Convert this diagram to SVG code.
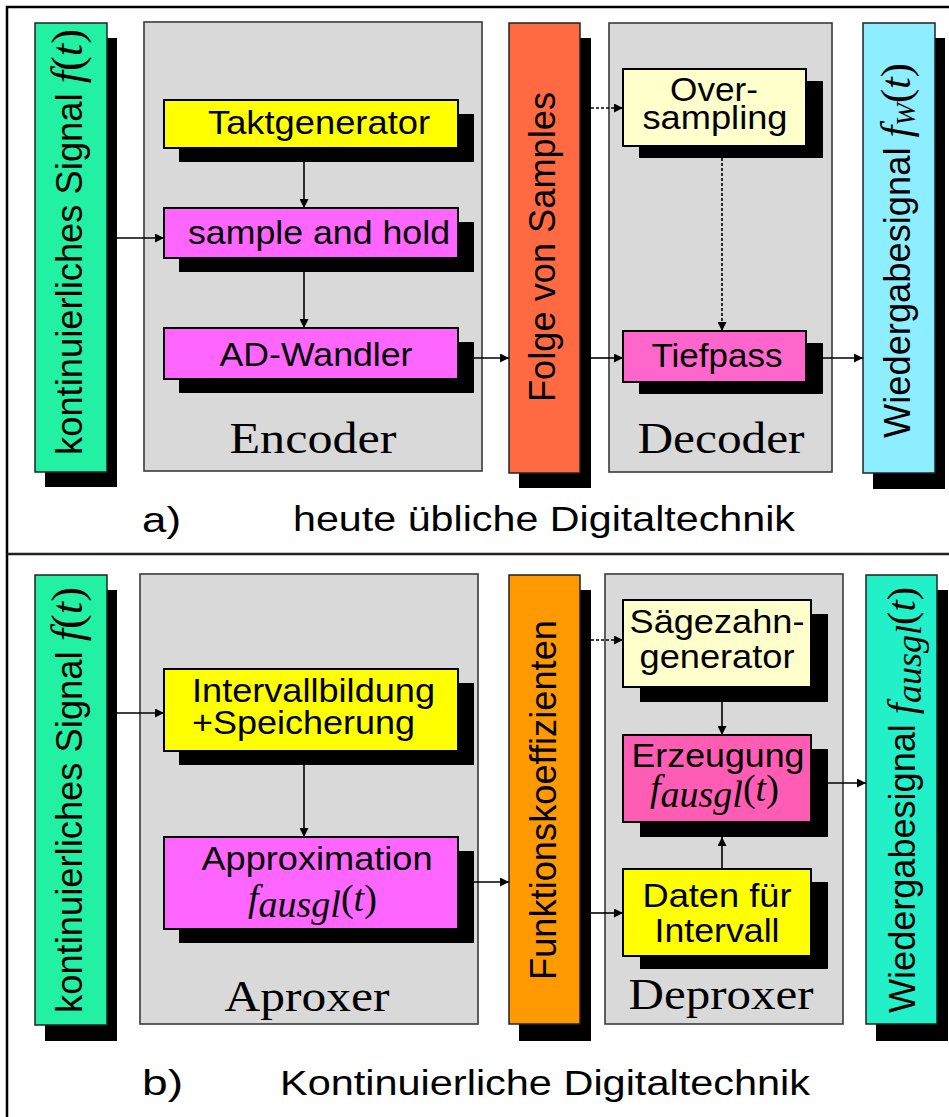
<svg xmlns="http://www.w3.org/2000/svg" width="949" height="1117" viewBox="0 0 949 1117">
  <style>
    .bg { fill: #ffffff; }
    .frame { fill: none; stroke: #000; stroke-width: 2.5; }
    .sep { stroke: #222; stroke-width: 2.5; }
    .shadow { fill: #000; }
    .panel { fill: #d9d9d9; stroke: #3a3a3a; stroke-width: 1.6; }
    .bar { stroke: #222; stroke-width: 1.5; }
    .box { stroke: #000; stroke-width: 2; }
    .green { fill: #22f0a2; }
    .cyan { fill: #8ceeff; }
    .turq { fill: #22f0c8; }
    .red { fill: #ff6a42; }
    .orange { fill: #ff9900; }
    .yellow { fill: #ffff00; }
    .magenta { fill: #ff66ff; }
    .pink { fill: #ff66cc; }
    .rose { fill: #ff5cb4; }
    .cream { fill: #ffffcc; }
    .sans { font-family: "Liberation Sans", Arial, sans-serif; fill: #000; }
    .serif { font-family: "Liberation Serif", "Times New Roman", serif; fill: #000; }
    .it { font-family: "Liberation Serif", "Times New Roman", serif; font-style: italic; }
    .up { font-family: "Liberation Serif", "Times New Roman", serif; font-style: normal; }
    .lbl { font-size: 34px; text-anchor: middle; }
    .vert { font-size: 36px; }
    .panelname { font-size: 44px; text-anchor: middle; }
    .caption { font-size: 35px; }
    .conn { fill: none; stroke: #000; stroke-width: 1.6; }
    .dot { stroke-dasharray: 3 2; }
  </style>
  <defs>
    <marker id="arrow" markerWidth="9" markerHeight="9" refX="9" refY="4.5" orient="auto" markerUnits="userSpaceOnUse">
      <path d="M0,0 L9,4.5 L0,9 Z" fill="#000"/>
    </marker>
  </defs>

  <rect class="bg" x="0" y="0" width="949" height="1117"/>
  <path class="frame" d="M7,1117 V7 H949"/>
  <line class="sep" x1="7" y1="554" x2="949" y2="554"/>

  <!-- ===== a) conventional chain ===== -->
  <g id="signal-in-a">
    <rect class="shadow" x="45" y="38" width="72" height="449"/>
    <rect class="bar green" x="35" y="23" width="72" height="449"/>
    <text class="sans vert" transform="translate(82,455) rotate(-90)" textLength="426" lengthAdjust="spacingAndGlyphs">kontinuierliches Signal <tspan class="it" font-size="44">f</tspan><tspan class="up" font-size="44">(</tspan><tspan class="it" font-size="44">t</tspan><tspan class="up" font-size="44">)</tspan></text>
  </g>

  <g id="encoder">
    <rect class="panel" x="144" y="22" width="338" height="449"/>
    <text class="serif panelname" x="313" y="453" textLength="167" lengthAdjust="spacingAndGlyphs">Encoder</text>
  </g>

  <g id="taktgenerator">
    <rect class="shadow" x="179" y="114" width="295" height="48"/>
    <rect class="box yellow" x="164" y="100" width="294" height="48"/>
    <text class="sans lbl" x="319" y="134" textLength="222" lengthAdjust="spacingAndGlyphs">Taktgenerator</text>
  </g>

  <g id="sample-hold">
    <rect class="shadow" x="179" y="222" width="295" height="50"/>
    <rect class="box magenta" x="164" y="208" width="294" height="50"/>
    <text class="sans lbl" x="319" y="244" textLength="262" lengthAdjust="spacingAndGlyphs">sample and hold</text>
  </g>

  <g id="ad-wandler">
    <rect class="shadow" x="179" y="342" width="295" height="51"/>
    <rect class="box magenta" x="164" y="328" width="294" height="51"/>
    <text class="sans lbl" x="316" y="366" textLength="193" lengthAdjust="spacingAndGlyphs">AD-Wandler</text>
  </g>

  <g id="samples">
    <rect class="shadow" x="519" y="38" width="72" height="450"/>
    <rect class="bar red" x="509" y="23" width="71" height="450"/>
    <text class="sans vert" transform="translate(555,402) rotate(-90)" textLength="310" lengthAdjust="spacingAndGlyphs">Folge von Samples</text>
  </g>

  <g id="decoder">
    <rect class="panel" x="609" y="23" width="223" height="449"/>
    <text class="serif panelname" x="721" y="453" textLength="167" lengthAdjust="spacingAndGlyphs">Decoder</text>
  </g>

  <g id="oversampling">
    <rect class="shadow" x="639" y="81" width="184" height="77"/>
    <rect class="box cream" x="623" y="69" width="183" height="77"/>
    <text class="sans lbl" x="714" y="101" textLength="88" lengthAdjust="spacingAndGlyphs">Over-</text>
    <text class="sans lbl" x="715" y="129" textLength="145" lengthAdjust="spacingAndGlyphs">sampling</text>
  </g>

  <g id="tiefpass">
    <rect class="shadow" x="639" y="343" width="184" height="51"/>
    <rect class="box pink" x="623" y="331" width="183" height="51"/>
    <text class="sans lbl" x="717" y="367" textLength="131" lengthAdjust="spacingAndGlyphs">Tiefpass</text>
  </g>

  <g id="signal-out-a">
    <rect class="shadow" x="873" y="38" width="72" height="451"/>
    <rect class="bar cyan" x="863" y="23" width="72" height="450"/>
    <text class="sans vert" transform="translate(910,438) rotate(-90)" textLength="375" lengthAdjust="spacingAndGlyphs">Wiedergabesignal <tspan class="it" font-size="42">f</tspan><tspan class="it" font-size="27" dy="5">W</tspan><tspan class="up" font-size="42" dy="-5">(</tspan><tspan class="it" font-size="42">t</tspan><tspan class="up" font-size="42">)</tspan></text>
  </g>

  <g id="caption-a">
    <text class="sans caption" x="142" y="532" textLength="39" lengthAdjust="spacingAndGlyphs">a)</text>
    <text class="sans caption" x="293" y="531" textLength="502" lengthAdjust="spacingAndGlyphs">heute übliche Digitaltechnik</text>
  </g>

  <!-- ===== b) continuous chain ===== -->
  <g id="signal-in-b">
    <rect class="shadow" x="45" y="590" width="72" height="451"/>
    <rect class="bar green" x="35" y="575" width="72" height="450"/>
    <text class="sans vert" transform="translate(82,1013) rotate(-90)" textLength="426" lengthAdjust="spacingAndGlyphs">kontinuierliches Signal <tspan class="it" font-size="44">f</tspan><tspan class="up" font-size="44">(</tspan><tspan class="it" font-size="44">t</tspan><tspan class="up" font-size="44">)</tspan></text>
  </g>

  <g id="aproxer">
    <rect class="panel" x="140" y="574" width="338" height="450"/>
    <text class="serif panelname" x="307" y="1011" textLength="165" lengthAdjust="spacingAndGlyphs">Aproxer</text>
  </g>

  <g id="intervallbildung">
    <rect class="shadow" x="179" y="683" width="295" height="82"/>
    <rect class="box yellow" x="164" y="669" width="294" height="82"/>
    <text class="sans" font-size="34" x="192" y="702" textLength="243" lengthAdjust="spacingAndGlyphs">Intervallbildung</text>
    <text class="sans" font-size="34" x="192" y="734" textLength="223" lengthAdjust="spacingAndGlyphs">+Speicherung</text>
  </g>

  <g id="approximation">
    <rect class="shadow" x="179" y="851" width="295" height="92"/>
    <rect class="box magenta" x="164" y="837" width="294" height="92"/>
    <text class="sans lbl" x="317" y="870" textLength="231" lengthAdjust="spacingAndGlyphs">Approximation</text>
    <text class="serif" font-size="38" x="248" y="911"><tspan class="it">f</tspan><tspan class="it" dy="6">ausgl</tspan><tspan class="up" dy="-6">(</tspan><tspan class="it">t</tspan><tspan class="up">)</tspan></text>
  </g>

  <g id="koeffizienten">
    <rect class="shadow" x="519" y="590" width="72" height="451"/>
    <rect class="bar orange" x="509" y="575" width="71" height="449"/>
    <text class="sans vert" transform="translate(556,980) rotate(-90)" textLength="360" lengthAdjust="spacingAndGlyphs">Funktionskoeffizienten</text>
  </g>

  <g id="deproxer">
    <rect class="panel" x="605" y="574" width="238" height="450"/>
    <text class="serif panelname" x="721" y="1009" textLength="185" lengthAdjust="spacingAndGlyphs">Deproxer</text>
  </g>

  <g id="saegezahn">
    <rect class="shadow" x="640" y="614" width="188" height="88"/>
    <rect class="box cream" x="623" y="600" width="188" height="87"/>
    <text class="sans lbl" x="717" y="633" textLength="175" lengthAdjust="spacingAndGlyphs">Sägezahn-</text>
    <text class="sans lbl" x="717" y="668" textLength="155" lengthAdjust="spacingAndGlyphs">generator</text>
  </g>

  <g id="erzeugung">
    <rect class="shadow" x="640" y="749" width="188" height="88"/>
    <rect class="box rose" x="623" y="735" width="188" height="87"/>
    <text class="sans lbl" x="718" y="767" textLength="173" lengthAdjust="spacingAndGlyphs">Erzeugung</text>
    <text class="serif" font-size="38" x="650" y="801"><tspan class="it">f</tspan><tspan class="it" dy="6">ausgl</tspan><tspan class="up" dy="-6">(</tspan><tspan class="it">t</tspan><tspan class="up">)</tspan></text>
  </g>

  <g id="daten">
    <rect class="shadow" x="640" y="882" width="188" height="87"/>
    <rect class="box yellow" x="623" y="869" width="188" height="87"/>
    <text class="sans lbl" x="717" y="907" textLength="149" lengthAdjust="spacingAndGlyphs">Daten für</text>
    <text class="sans lbl" x="717" y="942" textLength="125" lengthAdjust="spacingAndGlyphs">Intervall</text>
  </g>

  <g id="signal-out-b">
    <rect class="shadow" x="876" y="590" width="72" height="451"/>
    <rect class="bar turq" x="866" y="575" width="71" height="449"/>
    <text class="sans vert" transform="translate(915,1013) rotate(-90)" textLength="426" lengthAdjust="spacingAndGlyphs">Wiedergabesignal <tspan class="it" font-size="40">f</tspan><tspan class="it" font-size="36" dy="6">ausgl</tspan><tspan class="up" font-size="40" dy="-6">(</tspan><tspan class="it" font-size="40">t</tspan><tspan class="up" font-size="40">)</tspan></text>
  </g>

  <g id="caption-b">
    <text class="sans caption" x="142" y="1095" font-size="37" textLength="41" lengthAdjust="spacingAndGlyphs">b)</text>
    <text class="sans caption" x="280" y="1095" font-size="37" textLength="530" lengthAdjust="spacingAndGlyphs">Kontinuierliche Digitaltechnik</text>
  </g>

  <!-- connectors -->
  <g id="connectors">
    <path class="conn" d="M117,238 H164" marker-end="url(#arrow)"/>
    <path class="conn" d="M304,162 V208" marker-end="url(#arrow)"/>
    <path class="conn" d="M304,272 V328" marker-end="url(#arrow)"/>
    <path class="conn" d="M474,358 H509" marker-end="url(#arrow)"/>
    <path class="conn" d="M591,358 H623" marker-end="url(#arrow)"/>
    <path class="conn" d="M823,358 H863" marker-end="url(#arrow)"/>
    <path class="conn dot" d="M591,108 H623" marker-end="url(#arrow)"/>
    <path class="conn dot" d="M722,158 V331" marker-end="url(#arrow)"/>

    <path class="conn" d="M117,713 H164" marker-end="url(#arrow)"/>
    <path class="conn" d="M304,765 V837" marker-end="url(#arrow)"/>
    <path class="conn" d="M474,882 H509" marker-end="url(#arrow)"/>
    <path class="conn dot" d="M591,640 H623" marker-end="url(#arrow)"/>
    <path class="conn" d="M722,702 V735" marker-end="url(#arrow)"/>
    <path class="conn" d="M722,869 V837" marker-end="url(#arrow)"/>
    <path class="conn" d="M591,913 H623" marker-end="url(#arrow)"/>
    <path class="conn" d="M828,783 H866" marker-end="url(#arrow)"/>
  </g>
</svg>
